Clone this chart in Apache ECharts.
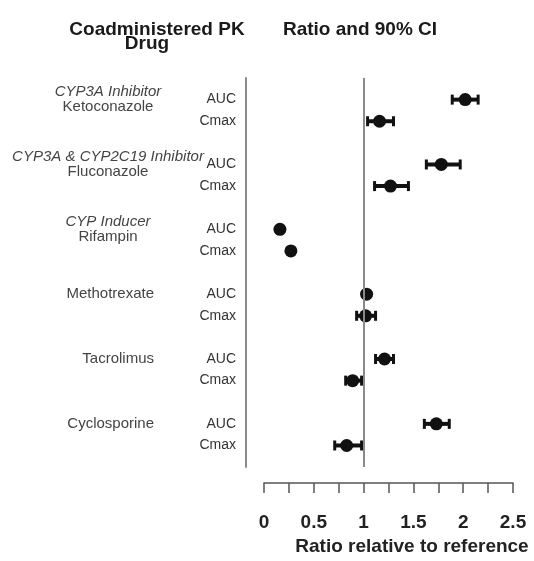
<!DOCTYPE html>
<html>
<head>
<meta charset="utf-8">
<script src="https://cdn.jsdelivr.net/npm/echarts@6/dist/echarts.min.js"></script>
<style>
  html, body { margin: 0; padding: 0; background: #fff; }
  #chart { width: 534px; height: 561px; }
</style>
</head>
<body>
<div id="chart"></div>
<script>
// drugs, top to bottom
const drugNames = ["Ketoconazole", "Fluconazole", "Rifampin", "Methotrexate", "Tacrolimus", "Cyclosporine"];
const drugClasses = ["CYP3A Inhibitor", "CYP3A & CYP2C19 Inhibitor", "CYP Inducer", "", "", ""];
const metrics = ["AUC", "Cmax"];

// one value per drug x metric (AUC, Cmax)
const ratio = [2.02, 1.16, 1.78, 1.27, 0.16, 0.27, 1.03, 1.02, 1.21, 0.89, 1.73, 0.83];
const lower = [1.89, 1.04, 1.63, 1.11, 0.15, 0.25, 1.01, 0.93, 1.12, 0.82, 1.61, 0.71];
const upper = [2.15, 1.30, 1.97, 1.45, 0.17, 0.29, 1.05, 1.12, 1.30, 0.98, 1.86, 0.98];

const xTicks = [0, 0.5, 1, 1.5, 2, 2.5];

// row slot on the y scale: 3 slots per drug, last one left empty as a gap
const rowOf = (i) => Math.floor(i / 2) * 3 + (i % 2);

const pointData = ratio.map((v, i) => [v, rowOf(i)]);
const ciData = ratio.map((v, i) => [lower[i], upper[i], rowOf(i)]);

const metricLabel = {};
const drugLabel = {};
ratio.forEach((v, i) => { metricLabel[rowOf(i)] = metrics[i % 2]; });
drugNames.forEach((d, g) => {
  drugLabel[g * 3] = drugClasses[g]
    ? "{i|" + drugClasses[g] + "}\n{n|" + d + "}"
    : "{r|" + d + "}";
});

const chart = echarts.init(document.getElementById("chart"));

const titleFont = { fontFamily: "Liberation Sans", fontSize: 19, fontWeight: "bold", color: "#1a1a1a" };

const option = {
  backgroundColor: "#fff",
  animation: false,
  title: [
    { text: "Coadministered PK", left: 152, top: 15, textAlign: "center", textStyle: titleFont },
    { text: "Drug", left: 142, top: 29, textAlign: "center", textStyle: titleFont },
    { text: "Ratio and 90% CI", left: 355, top: 15, textAlign: "center", textStyle: titleFont }
  ],
  grid: { left: 264, right: 21, top: 78, bottom: 93 },
  xAxis: {
    type: "value",
    position: "bottom",
    min: 0,
    max: 2.5,
    interval: 0.5,
    offset: 16,
    splitLine: { show: false },
    axisLine: { show: true, onZero: false, lineStyle: { color: "#555", width: 1.5 } },
    axisTick: { show: true, length: 10, lineStyle: { color: "#555", width: 1.5 } },
    minorTick: { show: true, splitNumber: 2, length: 10, lineStyle: { color: "#555", width: 1.5 } },
    axisLabel: {
      margin: 30,
      fontFamily: "Liberation Sans",
      fontSize: 19,
      fontWeight: "bold",
      color: "#222",
      formatter: (v) => (xTicks.indexOf(v) >= 0 ? String(v) : "")
    },
    name: "Ratio relative to reference",
    nameLocation: "middle",
    nameGap: 50,
    nameTextStyle: {
      fontFamily: "Liberation Sans",
      fontSize: 19,
      fontWeight: "bold",
      color: "#222",
      padding: [0, 0, 0, 47]
    }
  },
  yAxis: [
    {
      type: "value",
      inverse: true,
      min: -1,
      max: 17,
      interval: 1,
      offset: 18,
      splitLine: { show: false },
      axisTick: { show: false },
      axisLine: { show: true, onZero: false, lineStyle: { color: "#8a8a8a", width: 2 } },
      axisLabel: {
        margin: 10,
        fontFamily: "Liberation Sans",
        fontSize: 14,
        color: "#333",
        formatter: (v) => metricLabel[v] || ""
      }
    },
    {
      type: "value",
      inverse: true,
      min: -1,
      max: 17,
      interval: 1,
      position: "left",
      offset: 156,
      splitLine: { show: false },
      axisTick: { show: false },
      axisLine: { show: false },
      axisLabel: {
        margin: 0,
        align: "center",
        fontFamily: "Liberation Sans",
        fontSize: 15,
        color: "#444",
        formatter: (v) => drugLabel[v] || "",
        rich: {
          i: { fontStyle: "italic", fontSize: 15, color: "#444", lineHeight: 15, fontFamily: "Liberation Sans" },
          n: { fontSize: 15, color: "#444", lineHeight: 15, fontFamily: "Liberation Sans" },
          r: { fontSize: 15, color: "#444", width: 92, align: "right", fontFamily: "Liberation Sans" }
        }
      }
    }
  ],
  series: [
    {
      // reference line at ratio 1
      type: "line",
      data: [],
      z: 1,
      markLine: {
        silent: true,
        symbol: "none",
        label: { show: false },
        lineStyle: { color: "#8a8a8a", width: 2, type: "solid" },
        data: [{ xAxis: 1 }]
      }
    },
    {
      type: "custom",
      z: 3,
      encode: { x: [0, 1], y: 2 },
      data: ciData,
      renderItem: (params, api) => {
        const row = api.value(2);
        const lo = api.coord([api.value(0), row]);
        const hi = api.coord([api.value(1), row]);
        const h = 5;
        return {
          type: "group",
          children: [
            { type: "line", shape: { x1: lo[0], y1: lo[1], x2: hi[0], y2: hi[1] }, style: { stroke: "#111", lineWidth: 4 } },
            { type: "line", shape: { x1: lo[0], y1: lo[1] - h, x2: lo[0], y2: lo[1] + h }, style: { stroke: "#111", lineWidth: 3 } },
            { type: "line", shape: { x1: hi[0], y1: hi[1] - h, x2: hi[0], y2: hi[1] + h }, style: { stroke: "#111", lineWidth: 3 } }
          ]
        };
      }
    },
    {
      type: "scatter",
      z: 4,
      symbol: "circle",
      symbolSize: 13,
      itemStyle: { color: "#111", opacity: 1 },
      data: pointData
    }
  ]
};

chart.setOption(option);
</script>
</body>
</html>
